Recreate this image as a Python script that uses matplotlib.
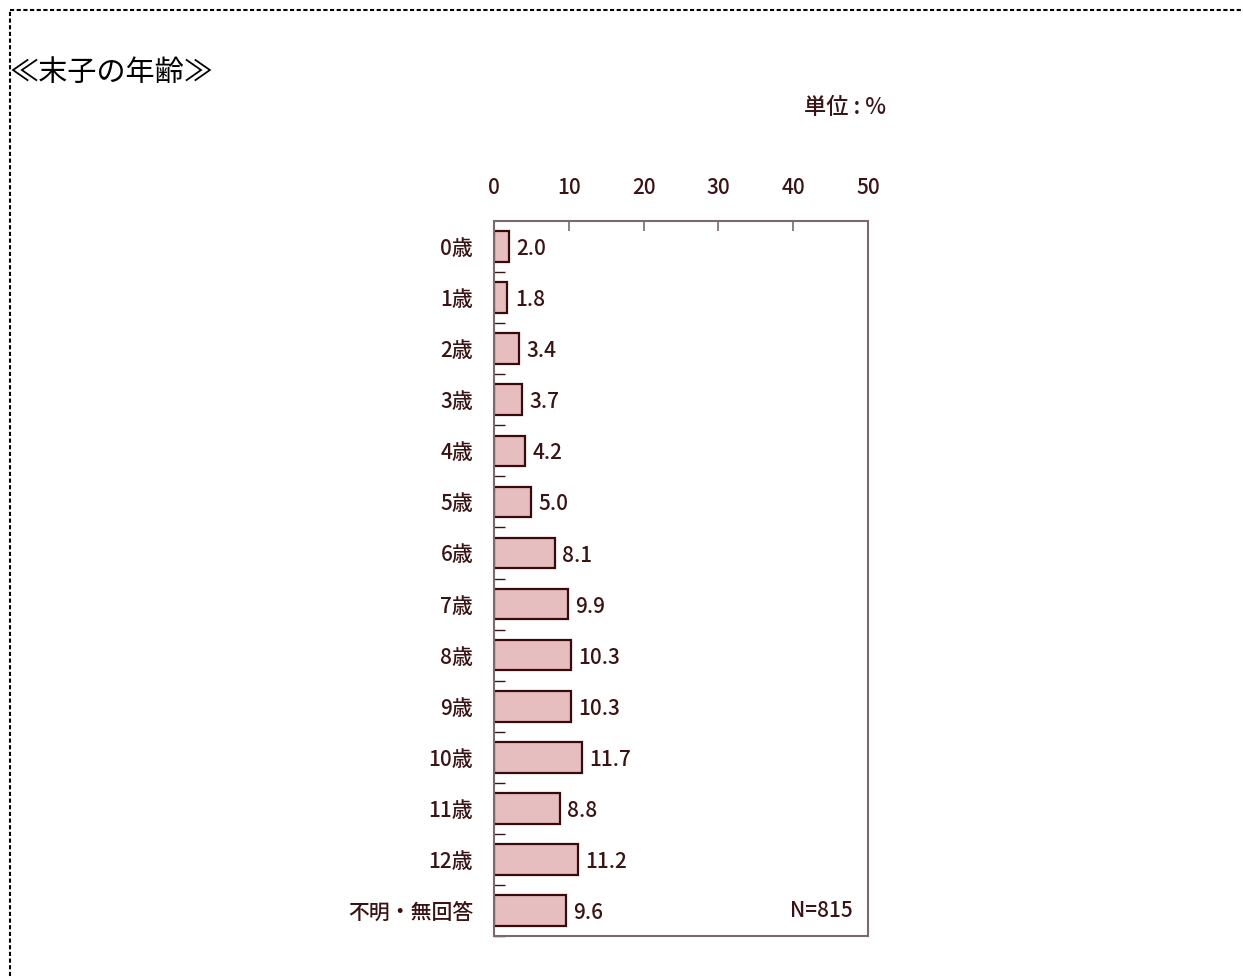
import matplotlib
matplotlib.use("Agg")
import matplotlib.pyplot as plt
from matplotlib.lines import Line2D

plt.rcParams['font.family'] = ['Noto Sans CJK JP', 'DejaVu Sans']
plt.rcParams['font.weight'] = 'medium'

categories = ["0歳", "1歳", "2歳", "3歳", "4歳", "5歳", "6歳", "7歳", "8歳", "9歳",
              "10歳", "11歳", "12歳", "不明・無回答"]
values = [2.0, 1.8, 3.4, 3.7, 4.2, 5.0, 8.1, 9.9, 10.3, 10.3, 11.7, 8.8, 11.2, 9.6]
xticks = [0, 10, 20, 30, 40, 50]

txt = "#3a1414"
W, H = 1243, 976
fig = plt.figure(figsize=(W / 100, H / 100), dpi=100)
ax = fig.add_axes([494 / W, 1 - 936 / H, (868 - 494) / W, (936 - 221) / H])

n = len(categories)
ypos = list(range(n))
ax.barh(ypos, values, height=0.6, color="#e6bec0", edgecolor="#3a0a0a", linewidth=1.6)
ax.set_ylim(n - 0.5, -0.5)
ax.set_xlim(0, 50)

ax.set_yticks(ypos)
ax.set_yticklabels(categories, fontsize=15, color=txt)
ax.tick_params(axis='y', length=0, pad=15)
ax.set_yticks([i + 0.5 for i in range(n)], minor=True)
ax.tick_params(axis='y', which='minor', direction='in', length=8, color="#3a1414", width=1)

ax.xaxis.tick_top()
ax.set_xticks(xticks)
ax.set_xticklabels([str(t) for t in xticks], fontsize=15, color=txt)
ax.tick_params(axis='x', direction='in', length=7, pad=16, color="#7a6a6a", width=1.2)

for s in ax.spines.values():
    s.set_color("#7a6a6a")
    s.set_linewidth(1.5)

for i, v in enumerate(values):
    ax.text(v + 1.0, i + 0.05, f"{v:.1f}", va='center', ha='left', fontsize=15, color=txt)

ax.text(0.96, 0.035, "N=815", transform=ax.transAxes, ha='right', va='center',
        fontsize=15, color=txt)

fig.text(9 / W, 1 - 73 / H, "≪末子の年齢≫", fontsize=21, color="black", ha='left',
         va='center', fontweight='normal')
fig.text(886 / W, 1 - 108 / H, "単位 : %", fontsize=16, color=txt, ha='right', va='center')

fig.add_artist(Line2D([10 / W, 1.0], [1 - 10 / H, 1 - 10 / H], transform=fig.transFigure,
                      color="black", linewidth=1.5, linestyle=(0, (2, 1.2))))
fig.add_artist(Line2D([10 / W, 10 / W], [0, 1 - 10 / H], transform=fig.transFigure,
                      color="black", linewidth=1.5, linestyle=(0, (2, 1.2))))

fig.savefig("out.png", dpi=100)
